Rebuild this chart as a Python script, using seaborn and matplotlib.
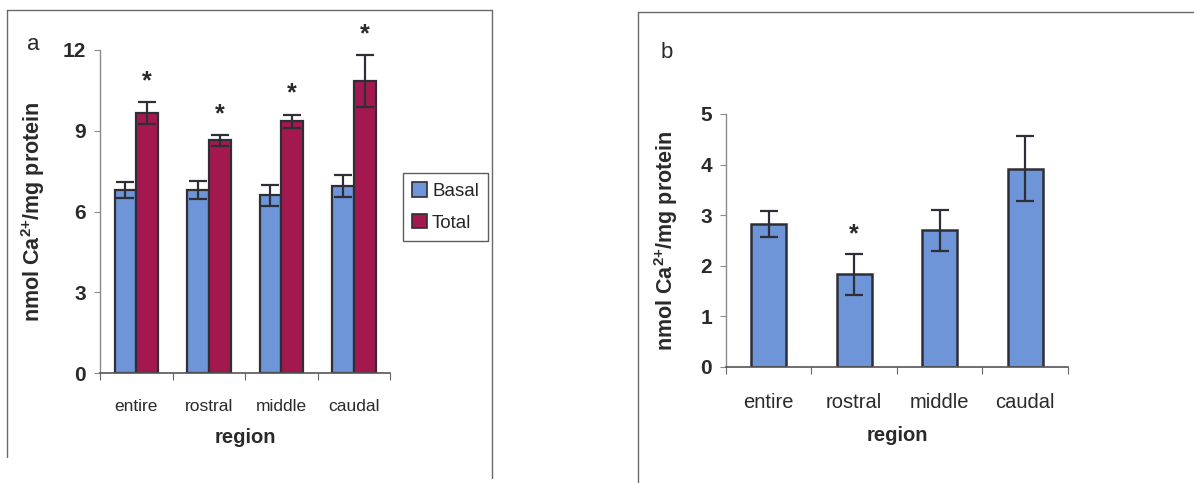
import matplotlib
matplotlib.use('Agg')
import matplotlib.pyplot as plt
import pandas as pd
import seaborn as sns
from matplotlib.lines import Line2D
from matplotlib.patches import Patch

# data
regions = ['entire', 'rostral', 'middle', 'caudal']
basal = [6.8, 6.8, 6.6, 6.95]
basal_err = [0.3, 0.35, 0.4, 0.4]
total = [9.65, 8.65, 9.35, 10.85]
total_err = [0.4, 0.2, 0.25, 0.95]
total_star = [True, True, True, True]

diff = [2.83, 1.83, 2.7, 3.92]
diff_err = [0.26, 0.4, 0.4, 0.64]
diff_star = [False, True, False, False]

blue = '#6d95d8'
maroon = '#a3194f'
edge = '#2e2e36'
txt = '#2a2a2a'

sns.set_theme(style='white')
plt.rcParams['font.family'] = ['Liberation Sans', 'DejaVu Sans']
plt.rcParams['mathtext.fontset'] = 'custom'
plt.rcParams['mathtext.rm'] = 'Liberation Sans'
plt.rcParams['mathtext.bf'] = 'Liberation Sans:bold'

df_a = pd.DataFrame({
    'region': regions * 2,
    'value': basal + total,
    'group': ['Basal'] * 4 + ['Total'] * 4,
})
df_b = pd.DataFrame({'region': regions, 'value': diff})

fig = plt.figure(figsize=(11.94, 4.83), dpi=100)
ax1 = fig.add_axes([0.0838, 0.2277, 0.2429, 0.6688])
ax2 = fig.add_axes([0.608, 0.2402, 0.2864, 0.5238])

# panel a
sns.barplot(data=df_a, x='region', y='value', hue='group', order=regions,
            hue_order=['Basal', 'Total'], palette=[blue, maroon], width=0.6,
            saturation=1, edgecolor=edge, linewidth=1.6, errorbar=None,
            legend=False, ax=ax1)
errs_a = basal_err + total_err
stars_a = [False] * 4 + total_star
for idx, bar in enumerate(ax1.patches[:8]):
    xc = bar.get_x() + bar.get_width() / 2
    h = bar.get_height()
    ax1.errorbar(xc, h, yerr=errs_a[idx], color=edge, capsize=6.5,
                 elinewidth=1.6, capthick=1.6, fmt='none', zorder=5)
    if stars_a[idx]:
        ax1.annotate('*', (xc, h + errs_a[idx]), xytext=(0, 15),
                     textcoords='offset points', ha='center', va='center',
                     fontsize=18, fontweight='bold', color=txt)
ax1.set_ylim(0, 12)
ax1.set_yticks([0, 3, 6, 9, 12])

# panel b
sns.barplot(data=df_b, x='region', y='value', order=regions, color=blue,
            width=0.41, saturation=1, edgecolor=edge, linewidth=1.8,
            errorbar=None, ax=ax2)
for i, bar in enumerate(ax2.patches[:4]):
    xc = bar.get_x() + bar.get_width() / 2
    h = bar.get_height()
    ax2.errorbar(xc, h, yerr=diff_err[i], color=edge, capsize=6.5,
                 elinewidth=1.6, capthick=1.6, fmt='none', zorder=5)
    if diff_star[i]:
        ax2.annotate('*', (xc, h + diff_err[i]), xytext=(0, 14),
                     textcoords='offset points', ha='center', va='center',
                     fontsize=18, fontweight='bold', color=txt)
ax2.set_ylim(0, 5)
ax2.set_yticks([0, 1, 2, 3, 4, 5])

for ax, xfs, ylx in [(ax1, 12.5, -0.183), (ax2, 14.5, -0.134)]:
    ax.set_xlim(-0.5, 3.5)
    for s in ['top', 'right']:
        ax.spines[s].set_visible(False)
    ax.spines['left'].set_color('#8a8a8a')
    ax.spines['bottom'].set_color('#555555')
    ax.spines['left'].set_linewidth(1.0)
    ax.spines['bottom'].set_linewidth(1.2)
    ax.tick_params(axis='y', left=True, length=4, width=0.8, color='#8a8a8a',
                   labelsize=15, labelcolor=txt, pad=6)
    for lab in ax.get_yticklabels():
        lab.set_fontweight('bold')
    ax.set_xticks([-0.5, 0.5, 1.5, 2.5, 3.5], minor=True)
    ax.tick_params(axis='x', which='minor', bottom=True, length=5, width=0.8,
                   color='#666666')
    ax.tick_params(axis='x', which='major', bottom=False, labelsize=xfs,
                   labelcolor=txt, pad=13)
    ax.set_xlabel('region', fontsize=14.5, fontweight='bold', color=txt, labelpad=10)
    ax.set_ylabel(r'nmol Ca$^{\mathbf{2{+}}}$/mg protein', fontsize=15.5,
                  fontweight='bold', color=txt)
    ax.yaxis.set_label_coords(ylx, 0.5)

# legend for panel a
handles = [Patch(facecolor=blue, edgecolor=edge, linewidth=1.2, label='Basal'),
           Patch(facecolor=maroon, edgecolor=edge, linewidth=1.2, label='Total')]
fig.legend(handles=handles, loc='upper left', bbox_to_anchor=(0.3375, 0.642),
           bbox_transform=fig.transFigure, fontsize=13.5, frameon=True,
           fancybox=False, edgecolor='#333333', handlelength=0.8,
           handleheight=0.8, handletextpad=0.25, borderpad=0.5,
           labelspacing=0.75, borderaxespad=0)

# panel letters
fig.text(33 / 1194, 1 - 45 / 483, 'a', fontsize=16, color=txt, ha='center', va='center')
fig.text(667 / 1194, 1 - 53 / 483, 'b', fontsize=16, color=txt, ha='center', va='center')

# scanned panel frames
frame = dict(color='#6a6a6a', linewidth=1.0, transform=fig.transFigure)
W, H = 1194, 483
fig.add_artist(Line2D([7 / W, 492 / W], [1 - 10 / H, 1 - 10 / H], **frame))
fig.add_artist(Line2D([7 / W, 7 / W], [1 - 10 / H, 1 - 457 / H], **frame))
fig.add_artist(Line2D([492 / W, 492 / W], [1 - 10 / H, 1 - 478 / H], **frame))
fig.add_artist(Line2D([638 / W, 1194 / W], [1 - 12 / H, 1 - 12 / H], **frame))
fig.add_artist(Line2D([638 / W, 638 / W], [1 - 12 / H, 0], **frame))

fig.savefig('out.png', dpi=100)
